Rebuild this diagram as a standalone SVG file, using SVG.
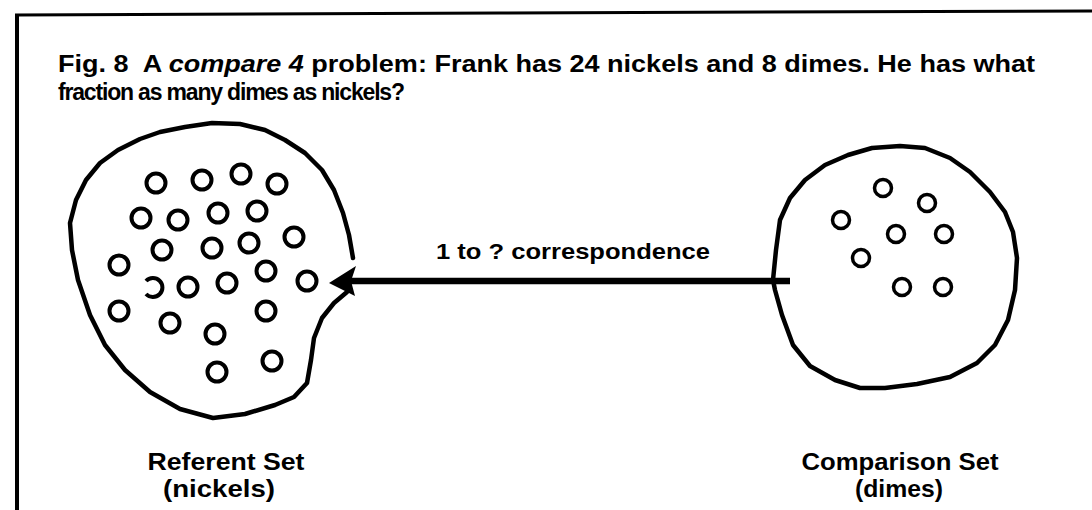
<svg xmlns="http://www.w3.org/2000/svg" width="1092" height="510" viewBox="0 0 1092 510">
<style>
.t{font-family:"Liberation Sans",Arial,sans-serif;font-weight:bold;fill:#000}
.blob{fill:none;stroke:#000;stroke-width:4.5;stroke-linejoin:round;stroke-linecap:round}
.coin{fill:none;stroke:#000;stroke-width:4}
.coin2{fill:none;stroke:#000;stroke-width:3.5}
</style>
<rect width="1092" height="510" fill="#fff"/>
<g id="frame">
<path d="M17,510 L17,15" stroke="#000" stroke-width="4" fill="none"/>
<path d="M15,15 L500,13 L1092,11" stroke="#000" stroke-width="3" fill="none"/>
</g>
<g id="title">
<text class="t" x="58" y="72" font-size="23" textLength="977" lengthAdjust="spacingAndGlyphs">Fig. 8<tspan dx="12">A</tspan> <tspan font-style="italic">compare 4</tspan> problem: Frank has 24 nickels and 8 dimes. He has what</text>
<text class="t" x="58" y="100" font-size="23" textLength="347" lengthAdjust="spacing">fraction as many dimes as nickels?</text>
</g>
<g id="referent-set">
<polyline class="blob" points="353,258 349,235 343,213 334,190 322,170 305,153 285,140 265,130 240,124 212,123 185,127 160,132 140,139 118,150 100,163 86,180 76,200 70,223 72,250 78,280 90,315 105,345 125,370 150,392 180,409 213,418 245,414 275,405 294,397 307,383 311,360 314,338 322,318 334,303 347,292"/>
<g class="coin">
<circle cx="156" cy="183" r="9.5"/><circle cx="202" cy="180" r="9.5"/><circle cx="241" cy="174" r="9.5"/><circle cx="277" cy="184" r="9.5"/>
<circle cx="141" cy="218" r="9.5"/><circle cx="178" cy="220" r="9.5"/><circle cx="218" cy="213" r="9.5"/><circle cx="257" cy="211" r="9.5"/>
<circle cx="162" cy="250" r="9.5"/><circle cx="212" cy="248" r="9.5"/><circle cx="249" cy="243" r="9.5"/><circle cx="294" cy="237" r="9.5"/>
<circle cx="119" cy="265" r="9.5"/><path d="M146,281 A9.5,9.5 0 1 1 146,294"/><circle cx="188" cy="287" r="9.5"/><circle cx="227" cy="283" r="9.5"/><circle cx="266" cy="271" r="9.5"/><circle cx="307" cy="281" r="9.5"/>
<circle cx="119" cy="311" r="9.5"/><circle cx="170" cy="323" r="9.5"/><circle cx="215" cy="334" r="9.5"/><circle cx="266" cy="311" r="9.5"/>
<circle cx="217" cy="372" r="9.5"/><circle cx="272" cy="361" r="9.5"/>
</g>
<text class="t" x="226" y="470" font-size="24" text-anchor="middle" textLength="157" lengthAdjust="spacingAndGlyphs">Referent Set</text>
<text class="t" x="219" y="497" font-size="24" text-anchor="middle" textLength="112" lengthAdjust="spacingAndGlyphs">(nickels)</text>
</g>
<g id="comparison-set">
<polyline class="blob" points="773,280 776,250 780,220 790,198 805,180 825,165 848,155 872,148 900,146 925,148 950,158 970,172 990,192 1005,212 1013,232 1017,258 1015,290 1008,320 995,345 977,363 950,377 917,384 885,388 860,388 835,380 810,366 793,345 782,315 775,290 773,280"/>
<g class="coin2">
<circle cx="883" cy="188" r="8.5"/><circle cx="927" cy="203" r="8.5"/><circle cx="841" cy="220" r="8.5"/><circle cx="896" cy="234" r="8.5"/>
<circle cx="944" cy="234" r="8.5"/><circle cx="861" cy="258" r="8.5"/><circle cx="902" cy="287" r="8.5"/><circle cx="943" cy="287" r="8.5"/>
</g>
<text class="t" x="900" y="470" font-size="24" text-anchor="middle" textLength="197" lengthAdjust="spacingAndGlyphs">Comparison Set</text>
<text class="t" x="899" y="497" font-size="24" text-anchor="middle" textLength="88" lengthAdjust="spacingAndGlyphs">(dimes)</text>
</g>
<g id="connectors">
<line x1="790" y1="281" x2="350" y2="281" stroke="#000" stroke-width="6.5"/>
<path d="M329,283 L356,266 L351,281 L355,296 Z" fill="#000"/>
<text class="t" x="436" y="259" font-size="22" textLength="274" lengthAdjust="spacingAndGlyphs">1 to ? correspondence</text>
</g>
</svg>
